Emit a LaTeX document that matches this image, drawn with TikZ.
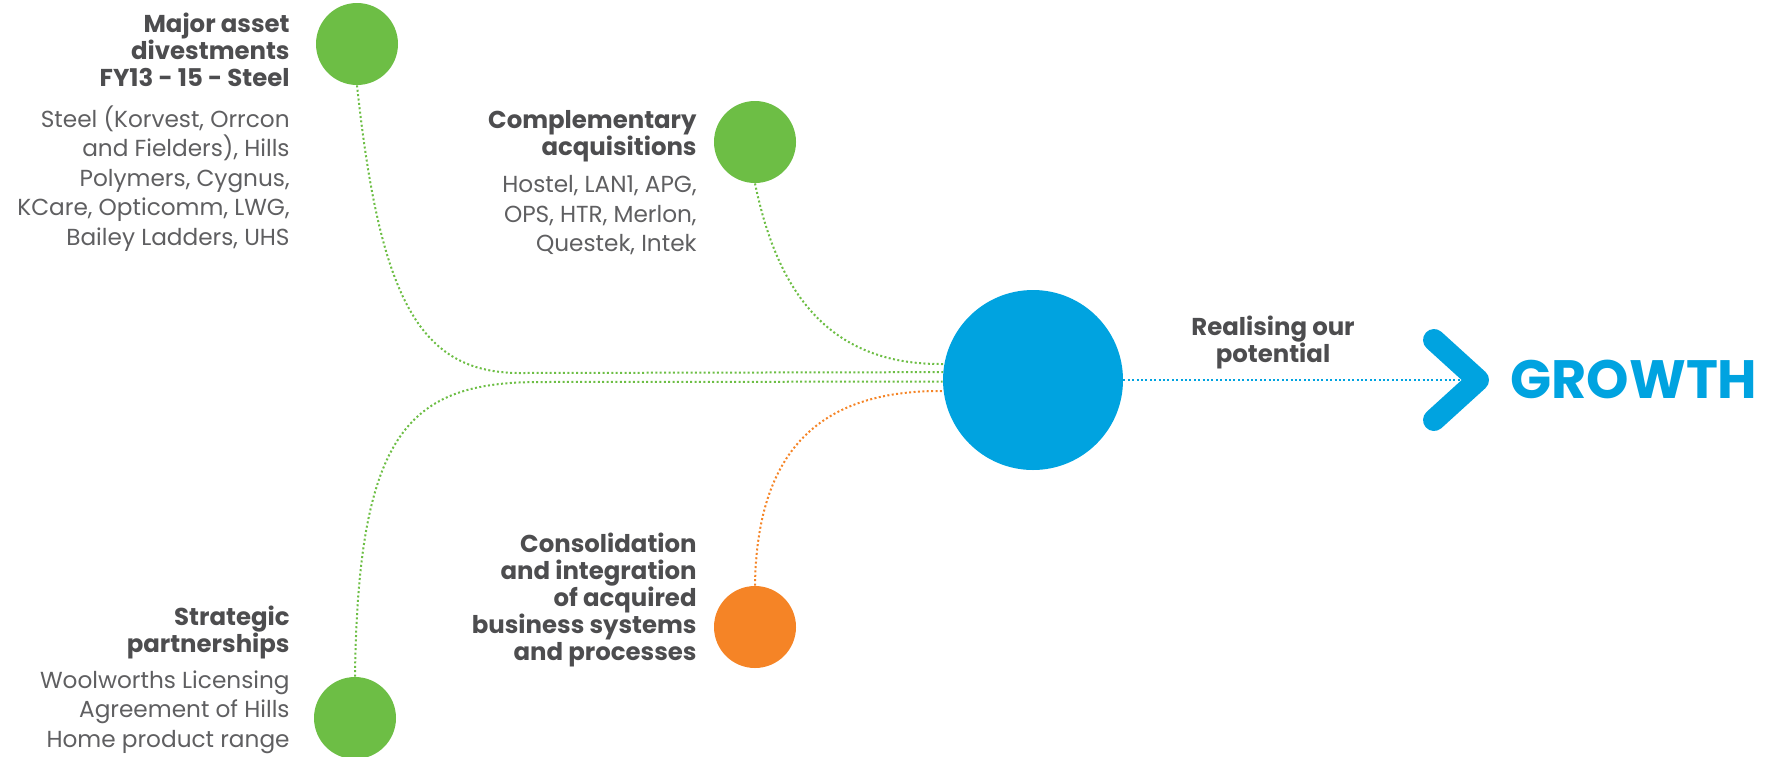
\documentclass[tikz,border=0pt]{standalone}
\usepackage{fontspec}
\setmainfont{Poppins}
\usepackage{xcolor}
\usetikzlibrary{positioning}

\definecolor{hillsgreen}{HTML}{6DBE45}
\definecolor{hillsblue}{HTML}{00A3E0}
\definecolor{hillsorange}{HTML}{F58426}
\definecolor{inkgrey}{HTML}{4D4D4F}

\begin{document}
\begin{tikzpicture}[x=0.5pt, y=-0.5pt,
  dot/.style={circle, minimum size=41pt, inner sep=0pt},
  head/.style={anchor=north east, inner sep=0pt, align=right, text=inkgrey,
               font=\fontsize{12.2}{13.5}\selectfont\bfseries},
  body/.style={anchor=north east, inner sep=0pt, align=right, text=inkgrey!90,
               font=\fontsize{11.6}{14.75}\selectfont},
  link/.style={line width=1pt, dash pattern=on 1pt off 1.2pt}]
  \useasboundingbox (0,0) rectangle (1765,756);

  \node[dot, fill=hillsgreen] (divest) at (357,44) {};
  \node[dot, fill=hillsgreen] (acquire) at (755,142) {};
  \node[dot, fill=hillsgreen] (partner) at (355,718) {};
  \node[dot, fill=hillsorange] (consol) at (755,627) {};
  \node[circle, minimum size=90pt, inner sep=0pt, fill=hillsblue] (hub) at (1033,380) {};

  \node[head] (divesthead) at (290,13) {Major asset\\divestments\\FY13 - 15 - Steel};
  \node[body] (divestbody) at (290,105) {Steel (Korvest, Orrcon\\and Fielders), Hills\\Polymers, Cygnus,\\KCare, Opticomm, LWG,\\Bailey Ladders, UHS};
  \node[head] (acquirehead) at (697,110) {Complementary\\acquisitions};
  \node[body] (acquirebody) at (697,175) {Hostel, LAN1, APG,\\OPS, HTR, Merlon,\\Questek, Intek};
  \node[head] (partnerhead) at (290,606) {Strategic\\partnerships};
  \node[body] (partnerbody) at (290,670) {Woolworths Licensing\\Agreement of Hills\\Home product range};
  \node[head] (consolhead) at (697,533) {Consolidation\\and integration\\of acquired\\business systems\\and processes};
  \node[head, anchor=north, align=center] (realise) at (1273,316) {Realising our\\potential};

  \draw[link, hillsgreen] (divest.south) .. controls (380,300) and (420,373) .. (520,373) -- (hub.175.5);
  \draw[link, hillsgreen] (acquire.south) .. controls (775,280) and (820,364) .. (940,364) -- (hub.170);
  \draw[link, hillsgreen] (partner.north) .. controls (358,430) and (410,382) .. (540,382) -- (hub.181.3);
  \draw[link, hillsorange] (consol.north) .. controls (757,440) and (830,391) .. (940,391) -- (hub.187);

  \coordinate (tip) at (1478,380);
  \draw[link, hillsblue, line width=1.2pt] (hub.east) -- (tip);
  \draw[hillsblue, line width=11pt, line cap=round, line join=round] (1434,340) -- (tip) -- (1434,420);
  \node[anchor=west, inner sep=0pt, text=hillsblue, font=\fontsize{27}{27}\selectfont\bfseries] (growth) at (1510,379) {GROWTH};
\end{tikzpicture}
\end{document}
